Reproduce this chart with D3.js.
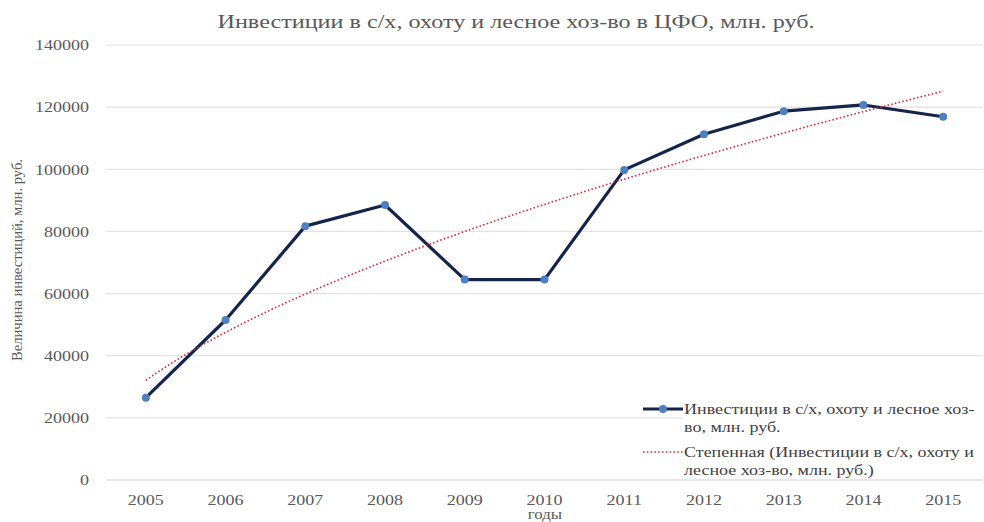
<!DOCTYPE html>
<html>
<head>
<meta charset="utf-8">
<script src="https://cdn.jsdelivr.net/npm/d3@7"></script>
<style>
  body { margin: 0; background: #fff; }
  svg text { font-family: "Liberation Serif", "Times New Roman", "DejaVu Serif", serif !important; }
</style>
</head>
<body>
<div class="chart"></div>
<script>
const years = ["2005", "2006", "2007", "2008", "2009", "2010", "2011", "2012", "2013", "2014", "2015"];
const investments = [26500, 51500, 81700, 88500, 64500, 64500, 99800, 111300, 118700, 120700, 116900];
const yTicks = [0, 20000, 40000, 60000, 80000, 100000, 120000, 140000];
const seriesName = ["Инвестиции в с/х, охоту и лесное хоз-", "во, млн. руб."];
const trendName = ["Степенная (Инвестиции в с/х, охоту и", "лесное хоз-во, млн. руб.)"];

const width = 984;
const height = 522;
const margin = { top: 45, right: 1, bottom: 42, left: 106 };

const svg = d3
  .select(".chart")
  .append("svg")
  .attr("width", width)
  .attr("height", height);

// the source picture is stretched sideways, so widen glyphs to match
function stretch(sel, k) {
  sel.each(function () {
    const w = this.getComputedTextLength();
    d3.select(this).attr("textLength", w * k).attr("lengthAdjust", "spacingAndGlyphs");
  });
}

const x = d3
  .scaleBand()
  .domain(years)
  .range([margin.left, width - margin.right]);

const y = d3
  .scaleLinear()
  .domain([0, 140000])
  .range([height - margin.bottom, margin.top]);

const cx = (d) => x(d) + x.bandwidth() / 2;

// gridlines
svg
  .append("g")
  .selectAll("line")
  .data(yTicks)
  .join("line")
  .attr("x1", margin.left)
  .attr("x2", width - margin.right)
  .attr("y1", (d) => y(d))
  .attr("y2", (d) => y(d))
  .attr("stroke", (d) => (d === 0 ? "#d0d0d0" : "#e2e2e2"))
  .attr("stroke-width", 1.2);

// axes (labels only)
const gy = svg
  .append("g")
  .attr("transform", `translate(${margin.left - 17},0)`)
  .call(d3.axisLeft(y).tickValues(yTicks).tickSize(0).tickFormat(d3.format("d")));
gy.select(".domain").remove();
gy.selectAll("text")
  .attr("x", 0)
  .attr("fill", "#595959")
  .style("font-size", "15px")
  .call(stretch, 1.2);

const gx = svg
  .append("g")
  .attr("transform", `translate(0,${height - margin.bottom + 8})`)
  .call(d3.axisBottom(x).tickSize(0));
gx.select(".domain").remove();
gx.selectAll("text")
  .attr("fill", "#595959")
  .attr("dy", "0.9em")
  .style("font-size", "15px")
  .call(stretch, 1.2);

// power trendline fitted (least squares in log-log) like the spreadsheet does
const lx = investments.map((v, i) => Math.log(i + 1));
const ly = investments.map((v) => Math.log(v));
const mx = d3.mean(lx);
const my = d3.mean(ly);
const b = d3.sum(lx, (v, i) => (v - mx) * (ly[i] - my)) / d3.sum(lx, (v) => (v - mx) ** 2);
const a = Math.exp(my - b * mx);
const xLin = d3
  .scaleLinear()
  .domain([1, years.length])
  .range([cx(years[0]), cx(years[years.length - 1])]);
const trend = d3.range(1, years.length + 0.001, 0.1).map((t) => [t, a * Math.pow(t, b)]);

// series line
svg
  .append("path")
  .datum(investments)
  .attr("fill", "none")
  .attr("stroke", "#14244a")
  .attr("stroke-width", 3.2)
  .attr("stroke-linejoin", "round")
  .attr(
    "d",
    d3
      .line()
      .x((d, i) => cx(years[i]))
      .y((d) => y(d))
  );

svg
  .append("g")
  .selectAll("circle")
  .data(investments)
  .join("circle")
  .attr("cx", (d, i) => cx(years[i]))
  .attr("cy", (d) => y(d))
  .attr("r", 4)
  .attr("fill", "#4f7fc0");

svg
  .append("path")
  .datum(trend)
  .attr("fill", "none")
  .attr("stroke", "#d9283c")
  .attr("stroke-width", 1.6)
  .attr("stroke-dasharray", "1.6,2.2")
  .attr(
    "d",
    d3
      .line()
      .x((d) => xLin(d[0]))
      .y((d) => y(d[1]))
  );

// title
svg
  .append("text")
  .attr("x", 516)
  .attr("y", 28)
  .attr("text-anchor", "middle")
  .attr("fill", "#595959")
  .style("font-size", "18px")
  .text("Инвестиции в с/х, охоту и лесное хоз-во в ЦФО, млн. руб.")
  .attr("textLength", 597)
  .attr("lengthAdjust", "spacingAndGlyphs");

// axis titles
svg
  .append("text")
  .attr("transform", `translate(22, 260) rotate(-90)`)
  .attr("text-anchor", "middle")
  .attr("fill", "#595959")
  .style("font-size", "14px")
  .text("Величина инвестиций, млн. руб.")
  .attr("textLength", 202)
  .attr("lengthAdjust", "spacingAndGlyphs");

svg
  .append("text")
  .attr("x", 545)
  .attr("y", 519)
  .attr("text-anchor", "middle")
  .attr("fill", "#595959")
  .style("font-size", "14px")
  .text("годы")
  .call(stretch, 1.2);

// legend
const legend = svg.append("g").attr("transform", "translate(643, 400)");
legend
  .append("rect")
  .attr("x", 40)
  .attr("y", 0)
  .attr("width", 300)
  .attr("height", 76)
  .attr("fill", "#fff");

legend
  .append("line")
  .attr("x1", 0)
  .attr("x2", 40)
  .attr("y1", 9)
  .attr("y2", 9)
  .attr("stroke", "#14244a")
  .attr("stroke-width", 3.2);
legend.append("circle").attr("cx", 20).attr("cy", 9).attr("r", 4).attr("fill", "#4f7fc0");

legend
  .append("line")
  .attr("x1", 0)
  .attr("x2", 40)
  .attr("y1", 52)
  .attr("y2", 52)
  .attr("stroke", "#d9283c")
  .attr("stroke-width", 1.6)
  .attr("stroke-dasharray", "1.6,2.2");

const legendText = [seriesName, trendName];
legendText.forEach((lines, k) => {
  const t = legend
    .append("text")
    .attr("x", 41)
    .attr("y", k === 0 ? 14 : 57)
    .attr("fill", "#404040")
    .style("font-size", "15px");
  lines.forEach((s, j) => {
    t.append("tspan")
      .attr("x", 41)
      .attr("dy", j === 0 ? 0 : 18)
      .text(s);
  });
  t.selectAll("tspan").call(stretch, 1.2);
});
</script>
</body>
</html>
